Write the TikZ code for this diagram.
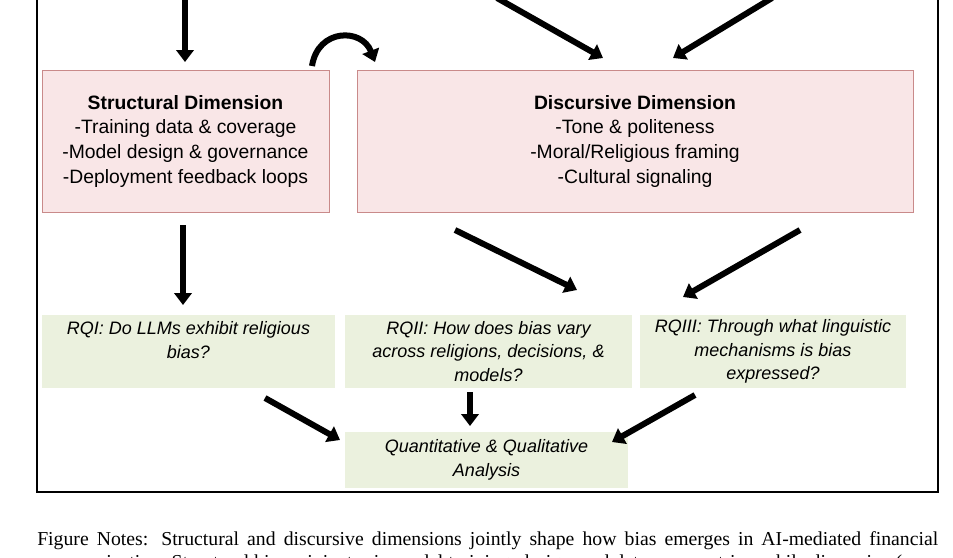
\documentclass[tikz,border=0pt]{standalone}
\usepackage{fontspec}
\setmainfont{Liberation Sans}
\newfontfamily\notefont{Liberation Serif}
\usetikzlibrary{arrows.meta,positioning}
\definecolor{dimfill}{HTML}{F9E6E7}
\definecolor{dimline}{HTML}{C98A8A}
\definecolor{rqfill}{HTML}{EBF1DE}

\begin{document}
\begin{tikzpicture}[
    x=0.75pt, y=-0.75pt,
    fat/.style = {
      line width = 4.5pt,
      -{Triangle[length=9pt,width=13pt]}
    },
    dim/.style = {
      draw = dimline,
      fill = dimfill,
      inner sep = 0pt,
      align = center,
      font = \fontsize{14.5}{18.5}\selectfont
    },
    rq/.style = {
      fill = rqfill,
      inner sep = 0pt,
      align = center,
      font = \fontsize{13.5}{17.5}\selectfont\itshape
    }
  ]
  \useasboundingbox (0,0) rectangle (953,557);
  \clip (0,0) rectangle (953,557);

  \draw[line width=0.9pt] (37,-5) rectangle (938,492);

  % dimensions
  \node[dim, minimum width=287*0.75pt, minimum height=142*0.75pt] (struct) at (185.5,141)
    {\textbf{Structural Dimension}\\-Training data \& coverage\\-Model design \& governance\\-Deployment feedback loops};
  \node[dim, minimum width=556*0.75pt, minimum height=142*0.75pt] (disc) at (635,141)
    {\textbf{Discursive Dimension}\\-Tone \& politeness\\-Moral/Religious framing\\-Cultural signaling};

  % research questions
  \node[rq, minimum width=293*0.75pt, minimum height=73*0.75pt] (rq1) at (188.5,351.5)
    {RQI: Do LLMs exhibit religious\\bias?\\\mbox{}};
  \node[rq, minimum width=287*0.75pt, minimum height=73*0.75pt] (rq2) at (488.5,351.5)
    {RQII: How does bias vary\\across religions, decisions, \&\\models?};
  \node[rq, minimum width=266*0.75pt, minimum height=73*0.75pt] (rq3) at (773,351.5)
    {RQIII: Through what linguistic\\mechanisms is bias\\expressed?};
  \node[rq, minimum width=283*0.75pt, minimum height=56*0.75pt] (ana) at (486.5,460)
    {Quantitative \& Qualitative\\Analysis};

  % arrows
  \coordinate (in1) at (185,-2);
  \coordinate (in2) at (497,-2);
  \coordinate (in3) at (772,-2);
  \draw[fat] (in1) -- (185,62);
  \draw[fat] (in2) -- (603,58);
  \draw[fat] (in3) -- (673,58);
  \draw[fat] (312,66) .. controls (318,28) and (362,28) .. (375,62);
  \draw[fat] (183,225) -- (183,305);
  \draw[fat] (455,230) -- (577,290);
  \draw[fat] (800,230) -- (683,297);
  \draw[fat] (265,398) -- (340,440);
  \draw[fat] (470,392) -- (470,426);
  \draw[fat] (695,395) -- (612,442);

  % notes
  \node[anchor=north west, inner sep=0pt, text width=901*0.75pt, align=justify,
        font=\notefont\fontsize{14.8}{17.3}\selectfont] (notes) at (37,531)
    {Figure Notes: Structural and discursive dimensions jointly shape how bias emerges in AI-mediated financial\linebreak communication. Structural bias originates in model training, design, and data asymmetries, while discursive (or};
\end{tikzpicture}
\end{document}
